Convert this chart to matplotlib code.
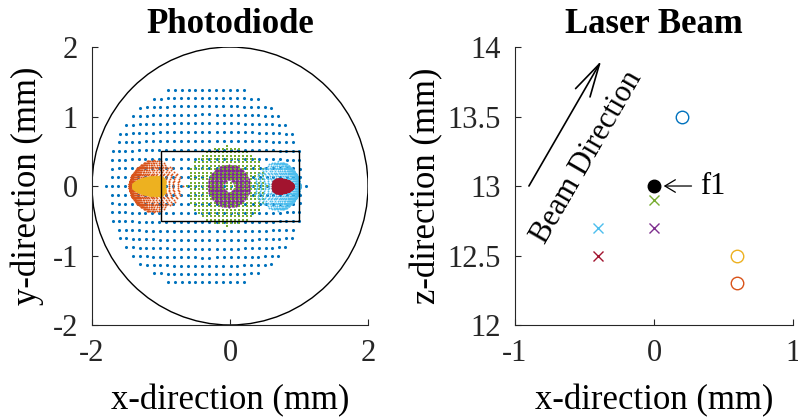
import numpy as np
import matplotlib
matplotlib.use("Agg")
import matplotlib.pyplot as plt
from matplotlib.patches import Circle, Rectangle

plt.rcParams['font.family'] = 'Liberation Serif'
plt.rcParams['axes.unicode_minus'] = False

# MATLAB default colour order
c_blue = '#0072BD'
c_orange = '#D95319'
c_yellow = '#EDB120'
c_purple = '#7E2F8E'
c_green = '#77AC30'
c_lblue = '#4DBEEE'
c_red = '#A2142F'

# photodiode outline and active area (mm)
pd_radius = 2.0
active_x = [-1.0, 1.0]
active_y = [-0.5, 0.5]

# round spots: centre x, semi-axes, grid counts, inner hole radius
blue_spot = dict(cx=-0.35, rx=1.45, ry=1.5, nx=30, ny=25, barrel=0.05)
green_spot = dict(cx=-0.05, r=0.58, nx=21, ny=25)
purple_spot = dict(cx=-0.015, r_out=0.305, r_in=0.085, n=33)

# comet shaped spots: tip x, length, half height, curvature, power, grid count, side
orange_spot = dict(tip=-1.46, length=0.78, half=0.38, curv=1.8, power=3, n=31, side=1)
yellow_spot = dict(tip=-1.41, length=0.47, half=0.14, curv=12.0, power=2, n=41, side=1)
lblue_spot = dict(tip=1.01, length=0.69, half=0.36, curv=1.8, power=3, n=31, side=-1)
red_spot = dict(tip=0.91, length=0.30, half=0.10, curv=12.5, power=2, n=41, side=-1)

# focus positions in the beam (mm)
circ_x = [0.2, 0.6, 0.6]
circ_z = [13.5, 12.5, 12.3]
circ_c = [c_blue, c_yellow, c_orange]
cross_x = [0.0, 0.0, -0.4, -0.4]
cross_z = [12.9, 12.7, 12.7, 12.5]
cross_c = [c_green, c_purple, c_lblue, c_red]
f1_x, f1_z = 0.0, 13.0


def disk_grid(nx, ny):
    u, v = np.meshgrid(np.linspace(-1, 1, nx), np.linspace(-1, 1, ny))
    m = u**2 + v**2 <= 1
    return u[m], v[m]


def blue_points(p):
    u, v = disk_grid(p['nx'], p['ny'])
    k = p['barrel']
    f = (1 - k * (u**2 + v**2)) / (1 - k)
    return p['cx'] + p['rx'] * u * f, p['ry'] * v * f


def comet_points(p):
    u, v = disk_grid(p['n'], p['n'])
    s = (u + 1) / 2
    y = p['half'] * v
    x = p['tip'] + p['side'] * (p['curv'] * y**2 + p['length'] * s**p['power'])
    return x, y


def ring_points(p):
    g = np.linspace(-p['r_out'], p['r_out'], p['n'])
    x, y = np.meshgrid(g, g)
    r = np.hypot(x, y)
    m = (r <= p['r_out']) & (r >= p['r_in'])
    return p['cx'] + x[m], y[m]


def green_points(p):
    u, v = disk_grid(p['nx'], p['ny'])
    return p['cx'] + p['r'] * u, p['r'] * v


def style_axes(ax):
    for side in ['top', 'right']:
        ax.spines[side].set_visible(False)
    for side in ['left', 'bottom']:
        ax.spines[side].set_color('#262626')
        ax.spines[side].set_linewidth(0.8)
    ax.tick_params(direction='in', length=4, width=0.8, colors='#262626',
                   labelsize=22, pad=10)


fig = plt.figure(figsize=(7.98, 4.18), dpi=100)

# ---- photodiode plane ----
ax1 = fig.add_axes([0.1153, 0.2225, 0.3459, 0.665])
ax1.add_patch(Circle((0, 0), pd_radius, fill=False, ec='k', lw=1.0, zorder=1))

bx, by = blue_points(blue_spot)
ax1.scatter(bx, by, s=5, c=c_blue, marker='o', linewidths=0, zorder=2)
ox, oy = comet_points(orange_spot)
ax1.scatter(ox, oy, s=1.8, c=c_orange, marker='o', linewidths=0, zorder=2)
yx, yy = comet_points(yellow_spot)
ax1.scatter(yx, yy, s=2.5, c=c_yellow, marker='o', linewidths=0, zorder=2)
px, py = ring_points(purple_spot)
ax1.scatter(px, py, s=2.5, c=c_purple, marker='o', linewidths=0, zorder=2)
gx, gy = green_points(green_spot)
ax1.scatter(gx, gy, s=1.6, c=c_green, marker='s', linewidths=0, zorder=2)
lx, ly = comet_points(lblue_spot)
ax1.scatter(lx, ly, s=1.8, c=c_lblue, marker='o', linewidths=0, zorder=2)
rx, ry = comet_points(red_spot)
ax1.scatter(rx, ry, s=2.5, c=c_red, marker='o', linewidths=0, zorder=2)

ax1.add_patch(Rectangle((active_x[0], active_y[0]), active_x[1] - active_x[0],
                        active_y[1] - active_y[0], fill=False, ec='k', lw=1.0, zorder=3))

ax1.set_xlim(-2, 2)
ax1.set_ylim(-2, 2)
ax1.set_xticks([-2, 0, 2])
ax1.set_yticks([-2, -1, 0, 1, 2])
style_axes(ax1)
ax1.set_xlabel('x-direction (mm)', fontsize=25, labelpad=12)
ax1.set_ylabel('y-direction (mm)', fontsize=25, labelpad=6)
ax1.set_title('Photodiode', fontsize=25, fontweight='bold', pad=10)

# ---- focal positions along the beam ----
ax2 = fig.add_axes([0.6454, 0.2225, 0.3483, 0.665])
for x, z, c in zip(circ_x, circ_z, circ_c):
    ax2.plot(x, z, 'o', ms=9, mfc='none', mec=c, mew=1.0)
for x, z, c in zip(cross_x, cross_z, cross_c):
    ax2.plot(x, z, 'x', ms=7, mec=c, mew=1.0)
ax2.plot(f1_x, f1_z, 'o', ms=9, mfc='k', mec='k')
ax2.annotate('', xy=(f1_x + 0.07, f1_z), xytext=(f1_x + 0.27, f1_z),
             arrowprops=dict(arrowstyle='->,head_length=0.5,head_width=0.3',
                             mutation_scale=15, lw=0.9, color='k',
                             shrinkA=0, shrinkB=0))
ax2.text(f1_x + 0.33, f1_z, 'f1', fontsize=22, ha='left', va='center')

ax2.annotate('', xy=(-0.38, 13.9), xytext=(-0.9, 13.0),
             arrowprops=dict(arrowstyle='->,head_length=1.6,head_width=0.4',
                             mutation_scale=15, lw=1.2, color='k',
                             shrinkA=0, shrinkB=0))
ax2.text(-0.48, 13.21, 'Beam Direction', fontsize=22, rotation=60,
         rotation_mode='anchor', ha='center', va='center')

ax2.set_xlim(-1, 1)
ax2.set_ylim(12, 14)
ax2.set_xticks([-1, 0, 1])
ax2.set_yticks([12, 12.5, 13, 13.5, 14])
ax2.set_yticklabels(['12', '12.5', '13', '13.5', '14'])
style_axes(ax2)
ax2.set_xlabel('x-direction (mm)', fontsize=25, labelpad=12)
ax2.set_ylabel('z-direction (mm)', fontsize=25, labelpad=3)
ax2.set_title('Laser Beam', fontsize=25, fontweight='bold', pad=10)

fig.savefig('out.png', dpi=100)
